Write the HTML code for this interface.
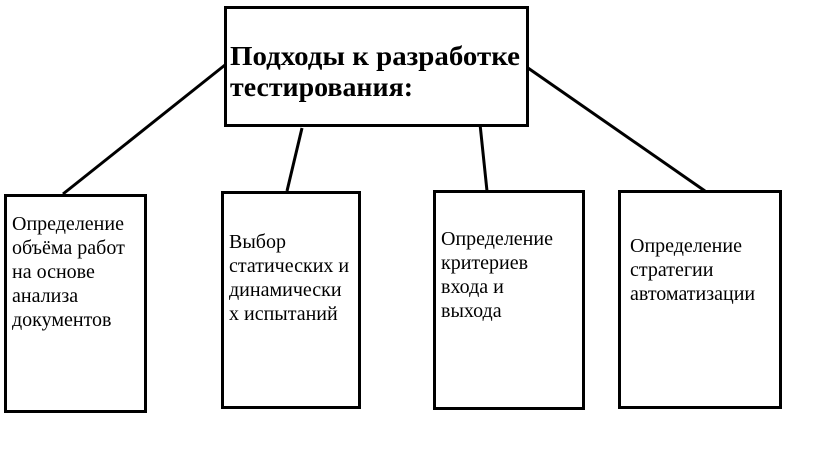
<!DOCTYPE html>
<html><head><meta charset="utf-8"><style>
html,body{margin:0;padding:0;background:#fff;}
svg{display:block}
text{font-family:"Liberation Serif","DejaVu Serif",serif;fill:#000}
</style></head><body>
<svg width="816" height="460" viewBox="0 0 816 460" xmlns="http://www.w3.org/2000/svg">
<rect x="0" y="0" width="816" height="460" fill="#fff"/>
<g stroke="#000" stroke-width="3" fill="none">
<line x1="225" y1="65" x2="63" y2="194"/>
<line x1="302" y1="128" x2="287" y2="191"/>
<line x1="480" y1="124" x2="487" y2="191"/>
<line x1="528" y1="68" x2="705" y2="191"/>
<rect x="225.5" y="7.5" width="302" height="118" fill="#fff"/>
<rect x="5.5" y="195.5" width="140" height="216" fill="#fff"/>
<rect x="222.5" y="192.5" width="137" height="215" fill="#fff"/>
<rect x="434.5" y="191.5" width="149" height="217" fill="#fff"/>
<rect x="619.5" y="191.5" width="161" height="216" fill="#fff"/>
</g>
<g font-weight="bold" font-size="27">
<text x="230" y="65" textLength="290" lengthAdjust="spacingAndGlyphs">Подходы к разработке</text>
<text x="230" y="96" textLength="183" lengthAdjust="spacingAndGlyphs">тестирования:</text>
</g>
<g font-size="20">
<text x="12" y="230">Определение</text>
<text x="12" y="254">объёма работ</text>
<text x="12" y="278">на основе</text>
<text x="12" y="302">анализа</text>
<text x="12" y="326">документов</text>
<text x="229" y="248">Выбор</text>
<text x="229" y="272">статических и</text>
<text x="229" y="296">динамически</text>
<text x="229" y="320">х испытаний</text>
<text x="441" y="245">Определение</text>
<text x="441" y="269">критериев</text>
<text x="441" y="293">входа и</text>
<text x="441" y="317">выхода</text>
<text x="630" y="252">Определение</text>
<text x="630" y="276">стратегии</text>
<text x="630" y="300">автоматизации</text>
</g>
</svg>
</body></html>
